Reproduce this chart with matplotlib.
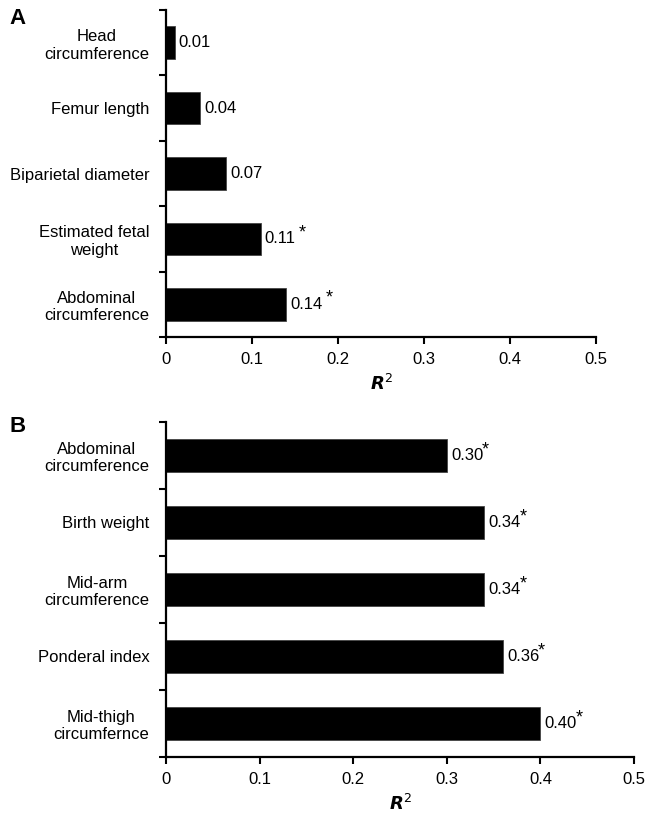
import numpy as np
import matplotlib
matplotlib.use('Agg')
import matplotlib.pyplot as plt

plt.rcParams['font.family'] = ['Liberation Sans', 'DejaVu Sans']

#----------Data----------#

labels_a = ['Head\ncircumference', 'Femur length', 'Biparietal diameter',
            'Estimated fetal\nweight', 'Abdominal\ncircumference']
values_a = [0.01, 0.04, 0.07, 0.11, 0.14]
signif_a = [False, False, False, True, True]

labels_b = ['Abdominal\ncircumference', 'Birth weight', 'Mid-arm\ncircumference',
            'Ponderal index', 'Mid-thigh\ncircumfernce']
values_b = [0.30, 0.34, 0.34, 0.36, 0.40]
signif_b = [True, True, True, True, True]

x_ticks = [0, 0.1, 0.2, 0.3, 0.4, 0.5]
x_ticklabels = ['0', '0.1', '0.2', '0.3', '0.4', '0.5']

FS = 12


def draw_panel(ax, labels, values, signif, star_dx):
    n = len(labels)
    pos = np.arange(n) + 0.5
    ax.barh(pos, values, height=0.5, color='black', edgecolor='#444444', linewidth=0.6)
    ax.set_ylim(n, 0)
    ax.set_xlim(0, 0.5)

    # boundaries as major ticks, category names as minor ticks
    ax.set_yticks(np.arange(n + 1))
    ax.set_yticklabels([])
    ax.set_yticks(pos, minor=True)
    ax.set_yticklabels(labels, minor=True, fontsize=FS)
    for t in ax.get_yticklabels(minor=True):
        t.set_multialignment('center')
    ax.tick_params(axis='y', which='minor', length=0, pad=12)
    ax.tick_params(axis='y', which='major', length=5, width=1.5, direction='out')

    ax.set_xticks(x_ticks)
    ax.set_xticklabels(x_ticklabels, fontsize=FS)
    ax.tick_params(axis='x', length=5, width=1.5, direction='out', pad=6)

    for s in ['top', 'right']:
        ax.spines[s].set_visible(False)
    for s in ['left', 'bottom']:
        ax.spines[s].set_linewidth(1.6)

    ax.set_xlabel('$\\mathbfit{R}^\\mathit{2}$', fontsize=FS + 1, labelpad=5)

    for p, v, sg in zip(pos, values, signif):
        t = ax.annotate('%.2f' % v, xy=(v, p), xytext=(3, 0), textcoords='offset points',
                        ha='left', va='center', fontsize=FS)
        if sg:
            ax.annotate('*', xy=(1, 1), xycoords=t, xytext=(star_dx, 5),
                        textcoords='offset points', ha='left', va='top', fontsize=FS + 1)


fig = plt.figure(figsize=(6.49, 8.15), dpi=100)
ax_a = fig.add_axes([0.2558, 0.5865, 0.6626, 0.4012])
ax_b = fig.add_axes([0.2558, 0.0712, 0.7211, 0.4110])

draw_panel(ax_a, labels_a, values_a, signif_a, 2)
draw_panel(ax_b, labels_b, values_b, signif_b, -1)

fig.text(0.015, 0.99, 'A', fontsize=16, fontweight='bold', va='top', ha='left')
fig.text(0.015, 0.49, 'B', fontsize=16, fontweight='bold', va='top', ha='left')

plt.savefig('out.png', dpi=100)
